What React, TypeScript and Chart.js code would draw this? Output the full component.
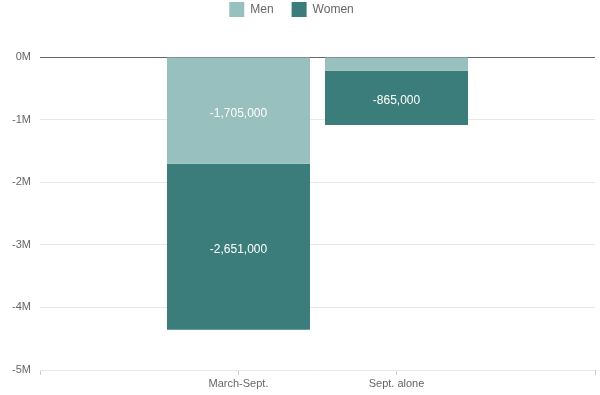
import React, { useEffect, useRef } from "react";
import { Chart, registerables } from "chart.js";

Chart.register(...registerables);

const categories = ["March-Sept.", "Sept. alone"];
const menValues = [-1705000, -220000];
const womenValues = [-2651000, -865000];
const seriesNames = ["Men", "Women"];
const yTicks = [0, -1000000, -2000000, -3000000, -4000000, -5000000];

const MEN_COLOR = "#97c0bf";
const WOMEN_COLOR = "#3b7d7a";
const FONT = "'Liberation Sans', Arial, Helvetica, sans-serif";
const X_SIDE = 1.7563; // half-width of the x range beyond the category midpoint

const valueLabels = {
  id: "valueLabels",
  afterDatasetsDraw(chart: any) {
    const ctx = chart.ctx;
    ctx.save();
    ctx.font = `12px ${FONT}`;
    ctx.fillStyle = "#ffffff";
    ctx.textAlign = "center";
    ctx.textBaseline = "middle";
    chart.data.datasets.forEach((ds: any, di: number) => {
      const meta = chart.getDatasetMeta(di);
      meta.data.forEach((el: any, i: number) => {
        const h = Math.abs(el.base - el.y);
        if (h < 25) return;
        const v = ds.data[i].y;
        ctx.fillText(v.toLocaleString("en-US"), el.x, (el.y + el.base) / 2 + 3);
      });
    });
    ctx.restore();
  },
};

const legendSpacer = {
  id: "legendSpacer",
  afterInit(chart: any) {
    const legend = chart.legend;
    if (!legend) return;
    const fit = legend.fit;
    legend.fit = function () {
      fit.call(this);
      this.height += 30;
    };
  },
};

export default function App() {
  const ref = useRef<HTMLCanvasElement | null>(null);

  useEffect(() => {
    if (!ref.current) return;
    Chart.defaults.font.family = FONT;
    const mid = (1 + categories.length) / 2;
    const xMin = mid - X_SIDE;
    const xMax = mid + X_SIDE;
    const chart = new Chart(ref.current, {
      type: "bar",
      data: {
        datasets: [
          {
            label: seriesNames[0],
            data: menValues.map((v, i) => ({ x: i + 1, y: v })),
            backgroundColor: MEN_COLOR,
            categoryPercentage: 0.905,
            barPercentage: 1,
          },
          {
            label: seriesNames[1],
            data: womenValues.map((v, i) => ({ x: i + 1, y: v })),
            backgroundColor: WOMEN_COLOR,
            categoryPercentage: 0.905,
            barPercentage: 1,
          },
        ],
      },
      options: {
        animation: false,
        responsive: false,
        layout: { padding: { top: -16, left: -12, right: 5, bottom: 0 } },
        plugins: {
          legend: {
            position: "top",
            labels: {
              boxWidth: 15,
              boxHeight: 15,
              padding: 18,
              color: "#666",
              font: { size: 12, family: FONT },
            },
          },
          tooltip: { enabled: false },
        },
        scales: {
          x: {
            type: "linear",
            stacked: true,
            offset: false,
            min: xMin,
            max: xMax,
            afterBuildTicks(scale: any) {
              scale.ticks = [xMin, ...categories.map((_, i) => i + 1), xMax].map((v) => ({ value: v }));
            },
            afterFit(scale: any) {
              scale.height = 25;
            },
            ticks: {
              autoSkip: false,
              maxRotation: 0,
              padding: 2,
              color: "#666",
              font: { size: 11, family: FONT },
              callback(value: any) {
                const i = Number(value) - 1;
                return Number.isInteger(i) && categories[i] ? categories[i] : "";
              },
            },
            grid: {
              offset: false,
              drawOnChartArea: false,
              drawTicks: true,
              tickLength: 5,
              color: "#cccccc",
            },
            border: { display: false },
          },
          y: {
            stacked: true,
            min: yTicks[yTicks.length - 1],
            max: yTicks[0],
            afterBuildTicks(scale: any) {
              scale.ticks = yTicks.map((v) => ({ value: v }));
            },
            afterFit(scale: any) {
              scale.width = 52;
            },
            ticks: {
              padding: 9,
              color: "#666",
              font: { size: 11, family: FONT },
              callback(value: any) {
                return Number(value) / 1000000 + "M";
              },
            },
            grid: {
              drawTicks: false,
              color: (c: any) => (c.tick && c.tick.value === 0 ? "#666666" : "#e8e8e8"),
            },
            border: { display: false },
          },
        },
      },
      plugins: [valueLabels, legendSpacer],
    });
    return () => chart.destroy();
  }, []);

  return (
    <div style={{ position: "absolute", left: 0, top: 0, width: 600, height: 395 }}>
      <canvas ref={ref} width={600} height={395} />
    </div>
  );
}
